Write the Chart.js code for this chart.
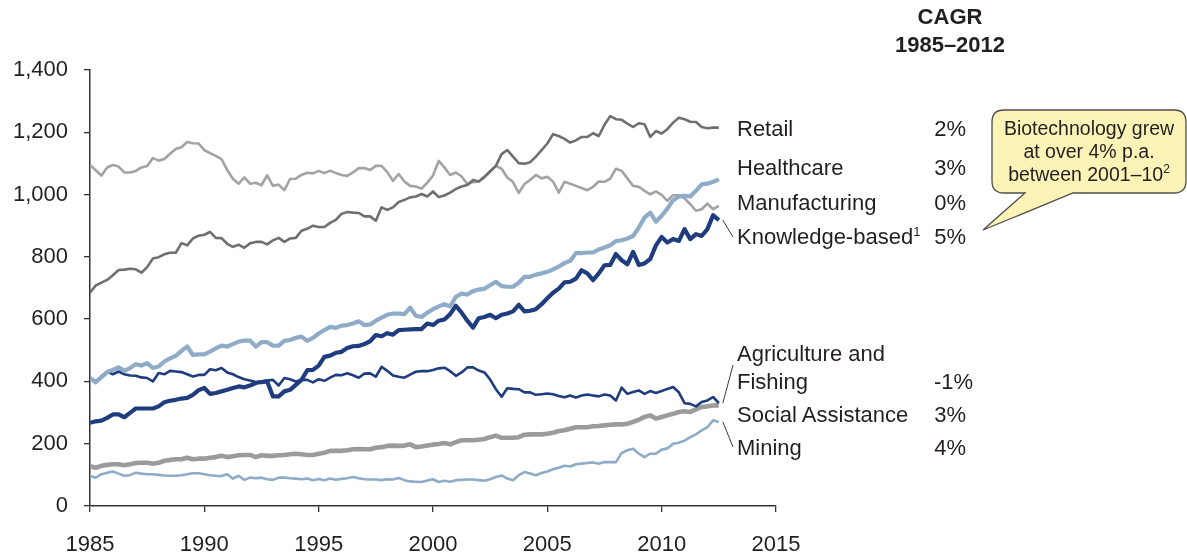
<!DOCTYPE html>
<html>
<head>
<meta charset="utf-8">
<script src="https://cdn.jsdelivr.net/npm/chart.js@4.4.1/dist/chart.umd.min.js"></script>
<style>
  html, body { margin: 0; padding: 0; background: #ffffff; }
  #wrap { position: relative; width: 1187px; height: 555px; overflow: hidden; font-family: 'Liberation Sans', Arial, Helvetica, sans-serif; color: #231f20; }
  #c { position: absolute; left: 0; top: 0; }
  .lbl { position: absolute; font-size: 22px; line-height: 22px; height: 22px; white-space: nowrap; }
  .pct { text-align: right; }
  .hdr { position: absolute; font-size: 22px; font-weight: bold; line-height: 22px; text-align: center; width: 200px; }
  .sup { font-size: 13px; vertical-align: 8px; line-height: 0; }
  #callout { position: absolute; left: 0; top: 0; }
  .ctext { position: absolute; font-size: 19.5px; line-height: 22px; text-align: center; width: 194px; left: 992px; }
</style>
</head>
<body>
<div id="wrap">
  <canvas id="c" width="1187" height="555"></canvas>
  <svg id="callout" width="1187" height="555">
    <path d="M 1004 110 H 1174 Q 1186 110 1186 122 V 181 Q 1186 193 1174 193 H 1073 L 983 230 L 1025 193 H 1004 Q 992 193 992 181 V 122 Q 992 110 1004 110 Z" fill="#fcf3b6" stroke="#4d4d4d" stroke-width="1.3"/>
  </svg>
</div>
<script>
// ---------- DATA (quarterly, 1985 Q1 – 2012 Q3) ----------
const startYear = 1985;
const tickYears = [1985, 1990, 1995, 2000, 2005, 2010, 2015];
const yTicks = [0, 200, 400, 600, 800, 1000, 1200, 1400];

const retail = [685,708,717,726,741,758,759,762,760,749,767,795,799,808,813,813,844,837,859,868,871,880,861,860,842,832,839,829,844,848,848,840,853,861,848,859,861,884,890,900,
896,896,909,919,938,944,942,941,930,930,916,959,951,959,976,983,991,994,1002,994,1010,992,997,1006,1018,1026,1031,1047,1042,1056,1074,1092,1130,1143,1122,1101,1099,1104,1122,
1143,1164,1194,1188,1179,1167,1174,1185,1185,1197,1188,1224,1252,1242,1240,1228,1217,1229,1226,1185,1204,1196,1210,1231,1247,1242,1234,1233,1217,1213,1215,1215];

const healthcare = [411,398,414,430,437,445,434,443,455,451,459,443,448,464,474,482,498,512,485,487,487,496,506,515,512,520,528,531,531,512,526,526,515,515,530,533,540,544,530,540,
554,565,575,572,579,581,586,593,581,583,595,605,614,618,618,616,637,611,607,621,632,641,648,641,672,682,679,690,695,698,709,720,706,704,704,717,736,736,743,
747,752,760,769,780,787,812,812,814,814,824,830,837,851,853,859,867,894,926,942,913,932,955,982,994,996,994,1012,1033,1035,1041,1049];

const manufacturing = [1095,1078,1061,1087,1095,1090,1071,1071,1076,1087,1092,1117,1109,1114,1131,1146,1152,1169,1165,1164,1143,1133,1124,1114,1079,1051,1035,1055,1035,1038,1030,1062,1028,1032,1014,1050,1051,1063,1070,1068,
1076,1069,1077,1069,1063,1060,1071,1085,1085,1079,1092,1092,1072,1044,1066,1042,1028,1026,1019,1038,1061,1108,1087,1063,1071,1058,1034,1040,1042,1058,1076,1092,1083,1055,1040,1005,1034,1047,1063,
1052,1057,1042,1006,1041,1035,1028,1021,1014,1025,1042,1041,1051,1083,1076,1052,1028,1025,1012,1001,1010,999,980,998,998,988,969,948,953,971,953,964];

const knowledgeBased = [267,272,274,283,294,294,285,299,313,313,313,313,320,333,338,341,345,347,357,372,379,360,363,368,373,379,384,381,387,395,398,400,352,352,368,373,389,405,436,437,
451,479,483,492,495,507,513,514,520,529,549,545,555,550,565,566,567,568,568,586,581,595,599,616,643,621,595,573,603,607,614,603,614,618,625,646,625,627,632,
648,667,685,698,718,720,730,757,747,725,747,773,774,809,789,776,816,774,779,793,837,864,846,857,851,889,857,873,867,889,934,918];

const agricultureFishing = [411,395,416,432,423,432,423,419,418,413,411,400,427,423,434,432,430,423,416,421,421,439,436,443,429,423,414,407,403,398,400,403,405,387,411,407,400,405,405,397,
407,402,412,421,420,426,420,412,425,426,415,447,434,419,415,412,422,431,433,433,437,442,444,433,418,429,445,445,435,429,406,375,351,378,376,375,365,365,357,
359,361,359,353,349,355,348,355,358,355,352,358,355,339,380,360,366,371,360,369,363,369,376,382,365,330,328,320,334,339,350,330];

const socialAssistance = [128,123,129,132,134,134,131,134,138,139,139,136,139,145,148,150,150,155,150,152,152,155,157,161,157,160,163,164,164,157,163,161,161,163,164,166,168,166,164,164,
168,171,177,177,177,179,182,183,182,182,187,189,193,194,193,194,198,189,191,194,197,199,202,198,205,211,211,211,213,215,221,226,219,219,219,221,229,230,230,
230,232,235,241,243,248,253,253,253,256,257,259,261,262,262,264,270,277,286,291,281,286,291,296,302,304,302,310,318,320,323,323];

const mining = [97,91,102,107,111,104,97,99,107,104,102,102,100,98,97,97,99,102,105,105,102,99,97,96,102,88,97,84,91,89,91,86,84,91,91,89,88,86,88,83,
87,83,88,84,87,89,93,89,86,85,85,83,86,85,90,83,79,78,77,82,86,77,81,78,83,84,85,85,83,81,86,93,98,88,83,99,109,104,99,
106,111,118,123,129,127,134,136,138,140,136,141,141,141,170,179,184,168,157,168,168,181,185,200,203,210,221,230,243,253,275,270];

const seriesNames = ['Retail', 'Healthcare', 'Manufacturing', 'Knowledge-based', 'Agriculture and Fishing', 'Social Assistance', 'Mining'];
const cagr = ['2%', '3%', '0%', '5%', '-1%', '3%', '4%'];
const headerLines = ['CAGR', '1985–2012'];
const calloutLines = ['Biotechnology grew', 'at over 4% p.a.', 'between 2001–10'];

// quarterly periods (categories)
const periods = retail.map((_, i) => startYear + i / 4);
const toXY = arr => arr.map((v, i) => ({ x: periods[i], y: v }));

const FONT = "'Liberation Sans', Arial, Helvetica, sans-serif";

const styles = {
  'Retail':                 { color: '#6f6f6f', width: 2.6 },
  'Healthcare':             { color: '#8eabc7', width: 4.2 },
  'Manufacturing':          { color: '#a3a3a3', width: 2.6 },
  'Knowledge-based':        { color: '#1f3d7e', width: 4.2 },
  'Agriculture and Fishing':{ color: '#1f3d7e', width: 2.6 },
  'Social Assistance':      { color: '#9b9b9b', width: 4.6 },
  'Mining':                 { color: '#8eabc7', width: 2.6 }
};
const values = [retail, healthcare, manufacturing, knowledgeBased, agricultureFishing, socialAssistance, mining];

const datasets = seriesNames.map((name, i) => ({
  label: name,
  data: toXY(values[i]),
  borderColor: styles[name].color,
  backgroundColor: styles[name].color,
  borderWidth: styles[name].width,
  pointRadius: 0,
  tension: 0,
  fill: false,
  borderJoinStyle: 'round',
  borderCapStyle: 'butt'
}));

// leader lines from series end to labels
const leaders = [
  { series: 'Knowledge-based', to: [733, 237] },
  { series: 'Agriculture and Fishing', to: [733, 365] },
  { series: 'Mining', to: [733, 447] }
];

const leaderPlugin = {
  id: 'leaders',
  afterDatasetsDraw(chart) {
    const ctx = chart.ctx;
    const xs = chart.scales.x, ys = chart.scales.y;
    ctx.save();
    ctx.strokeStyle = '#3a3a3a';
    ctx.lineWidth = 1;
    leaders.forEach(l => {
      const idx = seriesNames.indexOf(l.series);
      const arr = values[idx];
      const last = arr.length - 1;
      const px = xs.getPixelForValue(periods[last]) + 4;
      const py = ys.getPixelForValue(arr[last]);
      ctx.beginPath();
      ctx.moveTo(px, py);
      ctx.lineTo(l.to[0], l.to[1]);
      ctx.stroke();
    });
    ctx.restore();
  }
};

new Chart(document.getElementById('c'), {
  type: 'line',
  data: { datasets },
  options: {
    responsive: false,
    animation: false,
    events: [],
    layout: { padding: { left: 0, top: 70, right: 411, bottom: 0 } },
    plugins: { legend: { display: false }, tooltip: { enabled: false } },
    scales: {
      x: {
        type: 'linear',
        min: 1985, max: 2015,
        afterFit: s => { s.height = 49; },
        afterBuildTicks: s => { s.ticks = tickYears.map(v => ({ value: v })); },
        ticks: {
          font: { family: FONT, size: 22 },
          color: '#231f20',
          padding: 20,
          maxRotation: 0,
          callback: v => String(v)
        },
        grid: { display: true, drawOnChartArea: false, drawTicks: true, tickLength: 6, color: '#333333', lineWidth: 1.3 },
        border: { display: true, color: '#333333', width: 1.5 }
      },
      y: {
        min: 0, max: 1400,
        afterFit: s => { s.width = 90; },
        afterBuildTicks: s => { s.ticks = yTicks.map(v => ({ value: v })); },
        ticks: {
          font: { family: FONT, size: 22 },
          color: '#231f20',
          padding: 16,
          callback: v => v.toLocaleString('en-US')
        },
        grid: { display: true, drawOnChartArea: false, drawTicks: true, tickLength: 6, color: '#333333', lineWidth: 1.3 },
        border: { display: true, color: '#333333', width: 1.5 }
      }
    }
  },
  plugins: [leaderPlugin]
});

// ---------- text annotations (HTML) ----------
const wrap = document.getElementById('wrap');
function addDiv(cls, html, left, top, extra) {
  const d = document.createElement('div');
  d.className = cls;
  d.innerHTML = html;
  d.style.left = left + 'px';
  d.style.top = top + 'px';
  if (extra) Object.assign(d.style, extra);
  wrap.appendChild(d);
  return d;
}
// header
addDiv('hdr', headerLines[0], 850, 6);
addDiv('hdr', headerLines[1], 850, 34);

// series labels: [name lines, label centre y, pct centre y, pct right edge]
const labelLayout = [
  { lines: ['Retail'], cy: [129], pcy: 129, pr: 966 },
  { lines: ['Healthcare'], cy: [168], pcy: 168, pr: 966 },
  { lines: ['Manufacturing'], cy: [203], pcy: 203, pr: 966 },
  { lines: ['Knowledge-based<span class="sup">1</span>'], cy: [237], pcy: 237, pr: 966 },
  { lines: ['Agriculture and', 'Fishing'], cy: [354, 382], pcy: 382, pr: 973 },
  { lines: ['Social Assistance'], cy: [415], pcy: 415, pr: 966 },
  { lines: ['Mining'], cy: [448], pcy: 448, pr: 966 }
];
labelLayout.forEach((L, i) => {
  L.lines.forEach((t, j) => addDiv('lbl', t, 737, L.cy[j] - 11));
  addDiv('lbl pct', cagr[i], L.pr - 80, L.pcy - 11, { width: '80px' });
});

// callout text
addDiv('ctext', calloutLines[0], 992, 117);
addDiv('ctext', calloutLines[1], 992, 140);
addDiv('ctext', calloutLines[2] + '<span class="sup" style="font-size:12px">2</span>', 992, 163);
</script>
</body>
</html>
